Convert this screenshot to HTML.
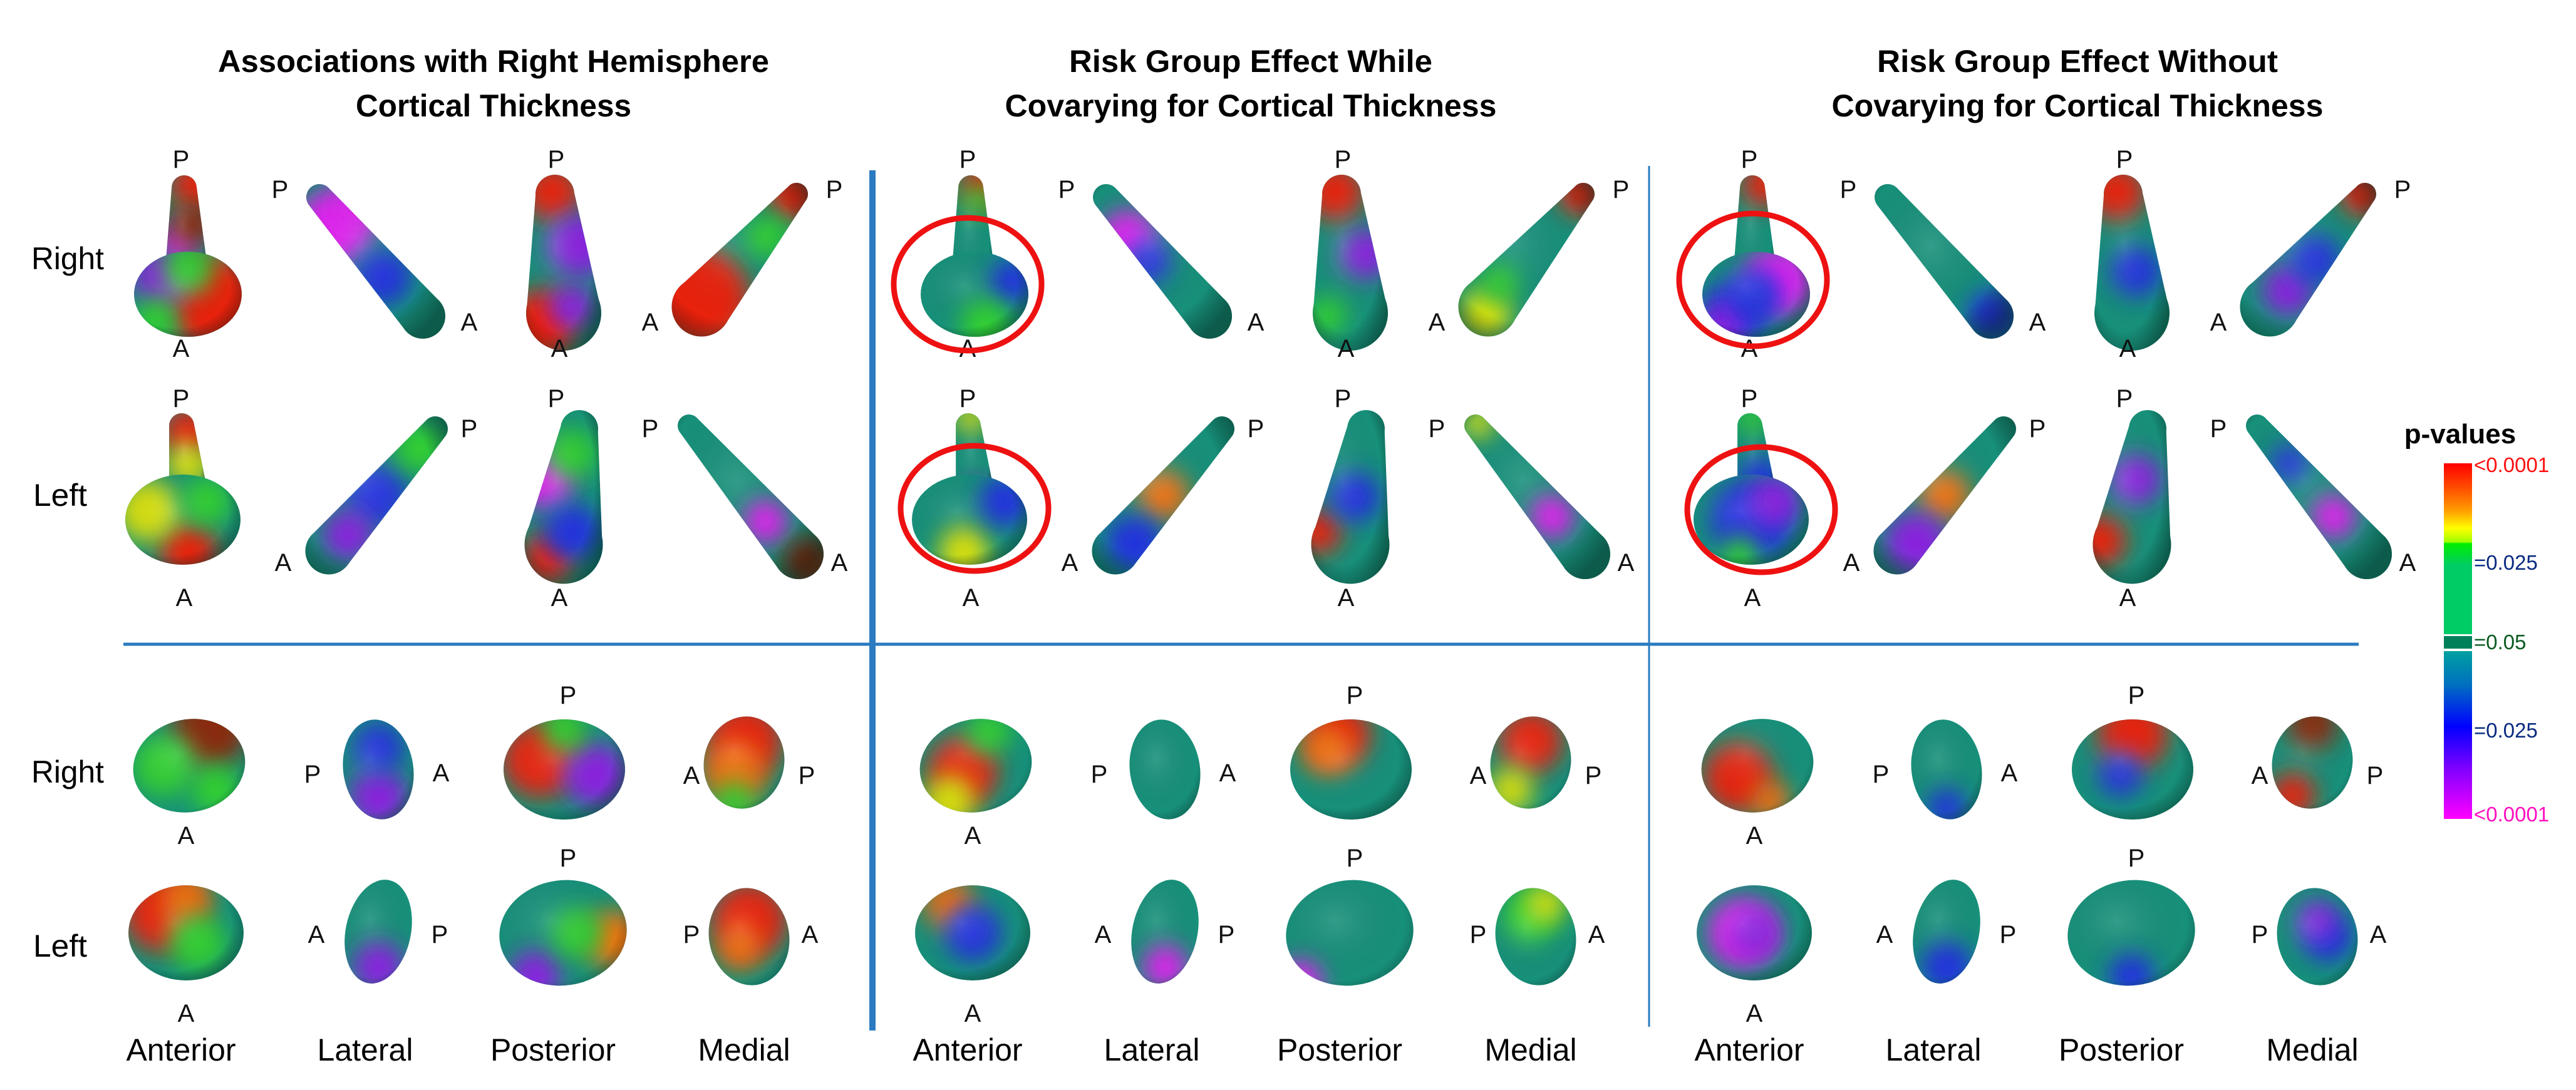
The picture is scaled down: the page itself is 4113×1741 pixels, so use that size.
<!DOCTYPE html>
<html><head><meta charset="utf-8">
<style>
html,body{margin:0;padding:0;background:#fff;}
svg{display:block;}
text{font-family:"Liberation Sans",sans-serif;}
</style></head>
<body>
<svg id="fig" width="4113" height="1741" viewBox="0 0 4113 1741" xmlns="http://www.w3.org/2000/svg">
<defs>
  <filter id="blur" x="-50%" y="-50%" width="200%" height="200%"><feGaussianBlur stdDeviation="18"/></filter>
  <linearGradient id="pgrad" x1="0" y1="0" x2="0" y2="1">
    <stop offset="0" stop-color="#ff0000"/>
    <stop offset="0.15" stop-color="#ff5000"/>
    <stop offset="0.28" stop-color="#ffa000"/>
    <stop offset="0.38" stop-color="#ffff00"/>
    <stop offset="0.46" stop-color="#a0ff00"/>
    <stop offset="0.47" stop-color="#00ee00"/>
    <stop offset="0.60" stop-color="#00cc66"/>
  </linearGradient>
  <linearGradient id="ngrad" x1="0" y1="0" x2="0" y2="1">
    <stop offset="0" stop-color="#00a0a0"/>
    <stop offset="0.2" stop-color="#0070c0"/>
    <stop offset="0.45" stop-color="#0000ff"/>
    <stop offset="0.7" stop-color="#8000ff"/>
    <stop offset="1" stop-color="#ff00ff"/>
  </linearGradient>
  <radialGradient id="shade" cx="0.4" cy="0.4" r="0.7">
    <stop offset="0" stop-color="#ffffff" stop-opacity="0.12"/>
    <stop offset="0.7" stop-color="#000000" stop-opacity="0"/>
    <stop offset="1" stop-color="#001a10" stop-opacity="0.45"/>
  </radialGradient>
</defs>

<g font-weight="bold" font-size="50" text-anchor="middle" fill="#000">
  <text x="788" y="115" textLength="880" lengthAdjust="spacingAndGlyphs">Associations with Right Hemisphere</text>
  <text x="788" y="186" textLength="440" lengthAdjust="spacingAndGlyphs">Cortical Thickness</text>
</g>
<g font-weight="bold" font-size="50" text-anchor="middle" fill="#000">
  <text x="1997" y="115" textLength="580" lengthAdjust="spacingAndGlyphs">Risk Group Effect While</text>
  <text x="1997" y="186" textLength="785" lengthAdjust="spacingAndGlyphs">Covarying for Cortical Thickness</text>
</g>
<g font-weight="bold" font-size="50" text-anchor="middle" fill="#000">
  <text x="3317" y="115" textLength="640" lengthAdjust="spacingAndGlyphs">Risk Group Effect Without</text>
  <text x="3317" y="186" textLength="785" lengthAdjust="spacingAndGlyphs">Covarying for Cortical Thickness</text>
</g>

<line x1="1393" y1="272" x2="1393" y2="1646" stroke="#2a7bc0" stroke-width="10"/>
<line x1="2633" y1="265" x2="2633" y2="1640" stroke="#2a7bc0" stroke-width="3"/>
<line x1="197" y1="1029" x2="3766" y2="1029" stroke="#2a7bc0" stroke-width="5"/>

<g font-size="50" fill="#000" text-anchor="middle">
  <text x="108" y="430" textLength="116" lengthAdjust="spacingAndGlyphs">Right</text>
  <text x="96" y="808" textLength="86" lengthAdjust="spacingAndGlyphs">Left</text>
  <text x="108" y="1250" textLength="116" lengthAdjust="spacingAndGlyphs">Right</text>
  <text x="96" y="1528" textLength="86" lengthAdjust="spacingAndGlyphs">Left</text>
</g>

<g id="shapes"></g>
<g id="letters" font-size="40" fill="#111" text-anchor="middle"></g>
<g id="views" font-size="50" fill="#000" text-anchor="middle"></g>

<g fill="none" stroke="#ee1111" stroke-width="9">
  <ellipse cx="1545" cy="454" rx="118" ry="106"/>
  <ellipse cx="1556" cy="812" rx="118" ry="100"/>
  <ellipse cx="2799" cy="447" rx="118" ry="106"/>
  <ellipse cx="2812" cy="814" rx="118" ry="100"/>
</g>

<g>
  <text x="3928" y="708" font-size="44" font-weight="bold" text-anchor="middle">p-values</text>
  <rect x="3902" y="740" width="45" height="273" fill="url(#pgrad)"/>
  <rect x="3902" y="1016" width="45" height="20" fill="#00805a"/>
  <rect x="3902" y="1040" width="45" height="268" fill="url(#ngrad)"/>
  <g font-size="33">
    <text x="3950" y="754" fill="#ff1010">&lt;0.0001</text>
    <text x="3950" y="910" fill="#0a2a80">=0.025</text>
    <text x="3950" y="1037" fill="#0a5a20">=0.05</text>
    <text x="3950" y="1178" fill="#0a2a80">=0.025</text>
    <text x="3950" y="1312" fill="#ff10c0">&lt;0.0001</text>
  </g>
</g>

<script>
const NS='http://www.w3.org/2000/svg';
const R='#e8200a',O='#f07010',Y='#d8e010',G='#30d030',B='#2030e0',M='#e020f0',P='#8a20e0',D='#0a4a30',BR='#8a2a10';
const colOffsets=[0,1256,2504];
const viewNames=['Anterior','Lateral','Posterior','Medial'];
const viewX=[289,583,883,1188];
const colNames=['col1','col2','col3'];
const letterX=[289,289,447,749,888,893,1038,1332, 289,294,749,452,888,893,1038,1340, 297,499,704,907,1104,1288, 297,505,702,907,1104,1293];
const letterY=[268,570,316,528,268,570,528,316, 650,968,698,912,650,968,698,912, 1348,1250,1248,1124,1252,1252, 1632,1506,1506,1384,1506,1506];
const letterT=['P','A','P','A','P','A','A','P', 'P','A','P','A','P','A','P','A', 'A','P','A','P','A','P', 'A','A','P','P','P','A'];

const geom=[
 ['tube',[294,300,298,440,40,70]], ['ell',[300,470,86,68,0]],
 ['tube',[510,315,675,505,42,72]],
 ['tube',[886,310,900,500,62,120]],
 ['tube',[1272,310,1120,490,36,95]],
 ['tube',[290,680,300,780,40,60]], ['ell',[292,830,92,72,0]],
 ['tube',[695,685,525,880,40,75]],
 ['tube',[925,685,900,870,60,125]],
 ['tube',[1100,680,1275,885,36,80]],
 ['ell',[302,1223,90,74,-12]],
 ['ell',[604,1229,56,80,-8]],
 ['ell',[901,1229,97,80,0]],
 ['ell',[1188,1218,64,74,12]],
 ['ell',[297,1490,92,76,0]],
 ['ell',[604,1488,52,84,12]],
 ['ell',[899,1490,102,84,-8]],
 ['ell',[1196,1496,64,78,-10]]
];
const blobs=[
 [
  [[0.7,0.08,40,R],[0.3,0.55,30,M],[0.6,0.4,35,BR]],
  [[0.75,0.6,75,R],[0.25,0.3,45,P],[0.5,0.2,40,G],[0.2,0.8,35,G]],
  [[0.2,0.28,60,M],[0.55,0.6,45,B],[0.35,0.15,35,M]],
  [[0.35,0.1,45,R],[0.7,0.4,50,P],[0.2,0.85,55,R],[0.6,0.75,35,P]],
  [[0.2,0.75,80,R],[0.9,0.08,40,R],[0.7,0.35,35,G]],
  [[0.5,0.2,40,R],[0.5,0.55,35,Y]],
  [[0.55,0.85,45,R],[0.2,0.4,50,Y],[0.7,0.3,40,G]],
  [[0.5,0.5,50,B],[0.3,0.75,40,P],[0.8,0.2,40,G]],
  [[0.25,0.4,45,M],[0.6,0.25,40,G],[0.3,0.85,40,R],[0.6,0.7,45,B]],
  [[0.6,0.65,35,M],[0.9,0.9,40,BR]],
  [[0.65,0.2,60,BR],[0.3,0.5,50,G],[0.7,0.7,40,G]],
  [[0.5,0.75,45,P],[0.5,0.3,40,B]],
  [[0.3,0.4,60,R],[0.75,0.55,50,P],[0.5,0.1,35,G]],
  [[0.5,0.3,60,R],[0.4,0.6,50,O],[0.4,0.85,30,G]],
  [[0.3,0.3,60,R],[0.5,0.15,40,O],[0.6,0.6,45,G]],
  [[0.5,0.8,40,P]],
  [[0.85,0.55,45,O],[0.3,0.85,40,P],[0.6,0.5,40,G]],
  [[0.5,0.35,60,R],[0.4,0.6,35,O]]
 ],
 [
  [[0.7,0.08,35,R],[0.6,0.2,25,G]],
  [[0.85,0.35,35,B],[0.6,0.85,40,G]],
  [[0.25,0.35,45,M],[0.4,0.5,35,B]],
  [[0.3,0.1,45,R],[0.7,0.45,40,P],[0.2,0.8,30,G]],
  [[0.9,0.07,35,R],[0.2,0.85,40,Y],[0.3,0.65,30,G]],
  [[0.4,0.05,25,Y],[0.6,0.95,30,P]],
  [[0.45,0.85,40,Y],[0.8,0.3,40,B]],
  [[0.5,0.5,40,O],[0.3,0.8,45,B]],
  [[0.1,0.7,35,R],[0.55,0.5,40,B]],
  [[0.6,0.62,35,M],[0.1,0.05,25,Y]],
  [[0.4,0.55,55,R],[0.3,0.8,40,Y],[0.6,0.2,35,G]],
  [],
  [[0.4,0.15,50,R],[0.3,0.3,40,O]],
  [[0.5,0.3,50,R],[0.3,0.75,35,Y]],
  [[0.3,0.2,40,O],[0.5,0.5,45,B]],
  [[0.5,0.8,35,M]],
  [[0.15,0.9,35,M]],
  [[0.45,0.3,45,G],[0.6,0.2,30,Y]]
 ],
 [
  [[0.7,0.08,35,R]],
  [[0.7,0.35,55,M],[0.3,0.7,50,B],[0.2,0.85,35,P],[0.5,0.5,40,B]],
  [[0.85,0.85,40,B]],
  [[0.3,0.1,45,R],[0.55,0.55,40,B]],
  [[0.9,0.07,35,R],[0.35,0.7,40,P],[0.55,0.5,40,B]],
  [[0.4,0.05,25,G],[0.6,0.7,35,B]],
  [[0.5,0.5,65,B],[0.7,0.3,40,P],[0.4,0.9,30,G]],
  [[0.5,0.5,40,O],[0.3,0.8,50,P]],
  [[0.1,0.75,40,R],[0.55,0.4,40,P]],
  [[0.6,0.62,35,M],[0.3,0.3,30,B]],
  [[0.35,0.6,55,R],[0.6,0.8,30,O]],
  [[0.5,0.85,30,B]],
  [[0.5,0.15,55,R],[0.4,0.55,35,B]],
  [[0.5,0.15,40,BR],[0.3,0.8,35,R]],
  [[0.4,0.5,55,M],[0.5,0.5,40,P]],
  [[0.5,0.8,40,B]],
  [[0.5,0.85,35,B]],
  [[0.6,0.5,40,B],[0.5,0.35,30,P]]
 ]
];

function mk(tag,attrs,parent){const e=document.createElementNS(NS,tag);for(const k in attrs)e.setAttribute(k,attrs[k]);parent.appendChild(e);return e;}
// returns list of [tag, attrs] primitives forming the shape
function shapeParts(t,p,dx){
  if(t==='ell'){
    const [cx,cy,rx,ry,rot]=p;
    return [['ellipse',{cx:cx+dx,cy,rx,ry,transform:`rotate(${rot} ${cx+dx} ${cy})`}]];
  }
  const [x1,y1,x2,y2,w1,w2]=p;
  const X1=x1+dx,X2=x2+dx;
  const L=Math.hypot(X2-X1,y2-y1),nx=-(y2-y1)/L,ny=(X2-X1)/L;
  const pts=[[X1+nx*w1/2,y1+ny*w1/2],[X2+nx*w2/2,y2+ny*w2/2],[X2-nx*w2/2,y2-ny*w2/2],[X1-nx*w1/2,y1-ny*w1/2]];
  return [
    ['polygon',{points:pts.map(q=>q.join(',')).join(' ')}],
    ['circle',{cx:X1,cy:y1,r:w1/2}],
    ['circle',{cx:X2,cy:y2,r:w2/2}]
  ];
}

const shapes=document.getElementById('shapes');
const defs=document.querySelector('defs');
let uid=0;
colOffsets.forEach((dx,ci)=>{
  geom.forEach((g,si)=>{
    const parts=shapeParts(g[0],g[1],dx);
    const grp=mk('g',{},shapes);
    
    
    const id='cp'+(uid++);
    const cp=mk('clipPath',{id:id},defs);
    const baseG=mk('g',{fill:'#17907a'},grp);
    parts.forEach(pt=>{mk(pt[0],pt[1],cp);mk(pt[0],pt[1],baseG);});
    const bb=baseG.getBBox();
    const inner=mk('g',{'clip-path':`url(#${id})`},grp);
    blobs[ci][si].forEach(bl=>{
      const c=mk('circle',{cx:bb.x+bl[0]*bb.width,cy:bb.y+bl[1]*bb.height,r:bl[2],fill:bl[3],filter:'url(#blur)'},inner);
      
      
    });
    mk('rect',{x:bb.x,y:bb.y,width:bb.width,height:bb.height,fill:'url(#shade)'},inner);
  });
});

const letters=document.getElementById('letters');
colOffsets.forEach((dx,ci)=>{
  letterX.forEach((x,i)=>{
    const t=mk('text',{x:x+dx,y:letterY[i]},letters);
    
    
    t.textContent=letterT[i];
  });
});
const views=document.getElementById('views');
colOffsets.forEach((dx,ci)=>{
  viewNames.forEach((v,i)=>{
    const t=mk('text',{x:viewX[i]+dx,y:1694},views);
    
    
    t.textContent=v;
  });
});
</script>
</svg>
</body></html>
